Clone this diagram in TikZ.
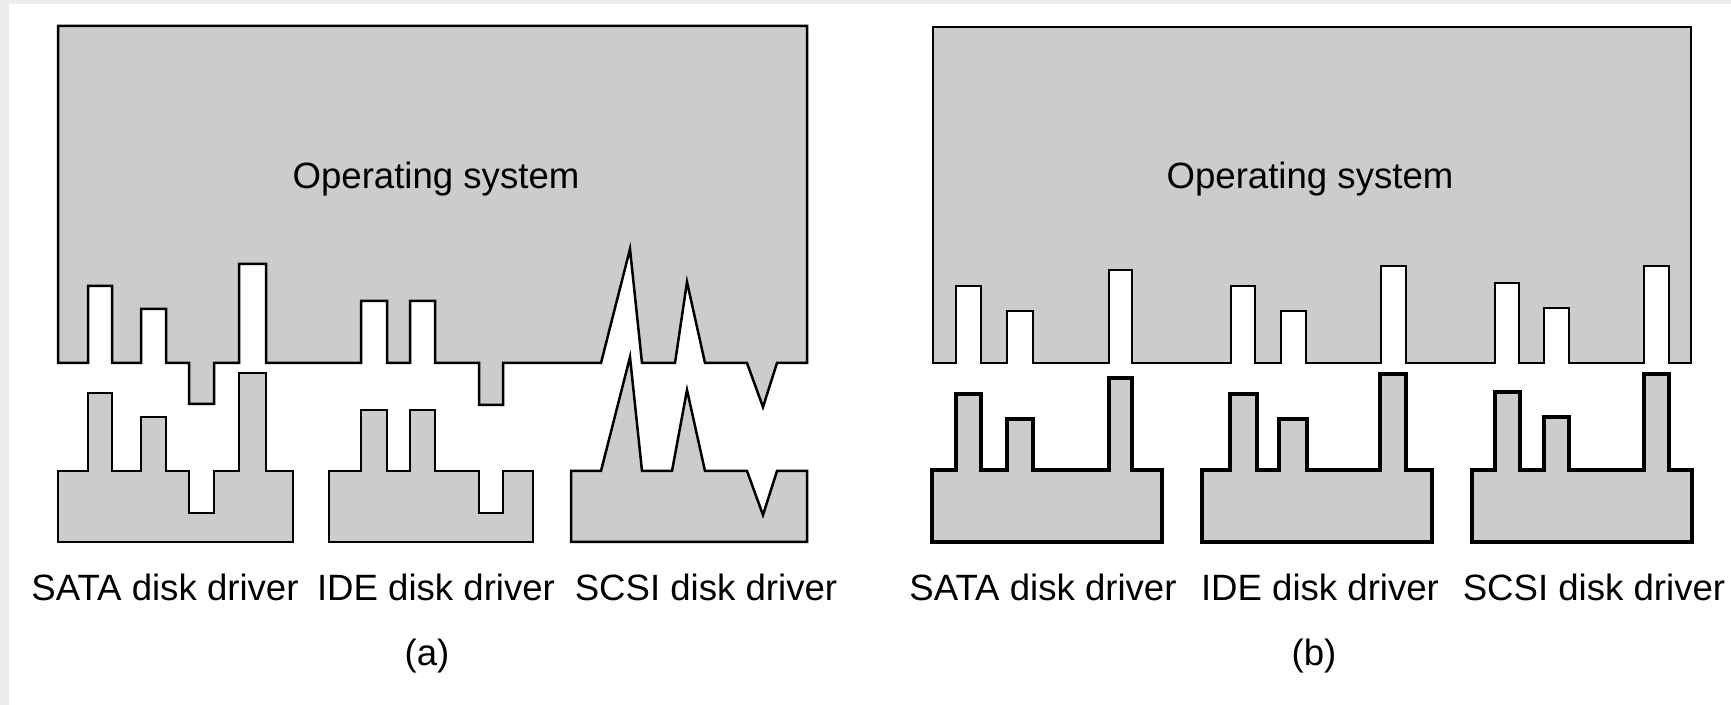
\documentclass[tikz,border=0pt]{standalone}
\usepackage{fontspec}
\setmainfont{Liberation Sans}
\definecolor{partgray}{HTML}{CCCCCC}
\definecolor{framegray}{HTML}{ECECEC}
\begin{document}
\begin{tikzpicture}[x={(0.5pt,0)},y={(0,-0.5pt)},
  osbox/.style={fill=partgray,draw=black,line width=1.25pt,line join=miter},
  drvA/.style={fill=partgray,draw=black,line width=1.25pt,line join=miter},
  drvB/.style={fill=partgray,draw=black,line width=1.8pt,line join=miter},
  lbl/.style={anchor=base,inner sep=0pt,font=\fontsize{18.3pt}{22pt}\selectfont},
  subcap/.style={anchor=base,inner sep=0pt,font=\fontsize{18.3pt}{22pt}\selectfont}]
\useasboundingbox (0,0) rectangle (1731,705);
\fill[white] (0,0) rectangle (1731,705);
% thin page edge along top and left
\fill[framegray] (0,0) rectangle (1731,4);
\fill[framegray] (0,0) rectangle (9,705);

% ---------- (a) operating system with a custom interface per driver ----------
\draw[osbox] (58,26) -- (807,26) -- (807,363) -- (777,363) -- (763,407) -- (747,363)
  -- (705,363) -- (687,282) -- (675,363) -- (642,363) -- (630,249) -- (601,363)
  -- (503,363) -- (503,405) -- (479,405) -- (479,363) -- (435,363) -- (435,301)
  -- (410,301) -- (410,363) -- (387,363) -- (387,301) -- (361,301) -- (361,363)
  -- (266,363) -- (266,264) -- (239,264) -- (239,363) -- (214,363) -- (214,404)
  -- (189,404) -- (189,363) -- (166,363) -- (166,309) -- (141,309) -- (141,363)
  -- (112,363) -- (112,286) -- (88,286) -- (88,363) -- (58,363) -- cycle;
\node[lbl] (osA) at (436,189) {Operating system};

\draw[drvA] (58,542) -- (58,471) -- (88,471) -- (88,393) -- (112,393) -- (112,471)
  -- (141,471) -- (141,417) -- (166,417) -- (166,471) -- (189,471) -- (189,513)
  -- (214,513) -- (214,471) -- (239,471) -- (239,373) -- (266,373) -- (266,471)
  -- (293,471) -- (293,542) -- cycle;
\draw[drvA] (329,542) -- (329,471) -- (361,471) -- (361,410) -- (387,410) -- (387,471)
  -- (410,471) -- (410,410) -- (435,410) -- (435,471) -- (479,471) -- (479,513)
  -- (503,513) -- (503,471) -- (533,471) -- (533,542) -- cycle;
\draw[drvA] (571,542) -- (571,471) -- (601,471) -- (630,357) -- (642,471) -- (672,471)
  -- (687,390) -- (705,471) -- (747,471) -- (763,515) -- (777,471) -- (807,471)
  -- (807,542) -- cycle;

\node[lbl] (sataA) at (165,601) {SATA disk driver};
\node[lbl] (ideA)  at (436,601) {IDE disk driver};
\node[lbl] (scsiA) at (706,601) {SCSI disk driver};
\node[subcap] (capA) at (427,666) {(a)};

% ---------- (b) operating system with one standard driver interface ----------
\draw[osbox] (933,27) -- (1691,27) -- (1691,363) -- (1669,363) -- (1669,266)
  -- (1644,266) -- (1644,363) -- (1569,363) -- (1569,308) -- (1544,308) -- (1544,363)
  -- (1519,363) -- (1519,283) -- (1495,283) -- (1495,363) -- (1406,363) -- (1406,266)
  -- (1381,266) -- (1381,363) -- (1306,363) -- (1306,311) -- (1281,311) -- (1281,363)
  -- (1255,363) -- (1255,286) -- (1231,286) -- (1231,363) -- (1132,363) -- (1132,270)
  -- (1109,270) -- (1109,363) -- (1033,363) -- (1033,311) -- (1007,311) -- (1007,363)
  -- (981,363) -- (981,286) -- (956,286) -- (956,363) -- (933,363) -- cycle;
\node[lbl] (osB) at (1310,189) {Operating system};

\draw[drvB] (932,542) -- (932,470) -- (956,470) -- (956,394) -- (981,394) -- (981,470)
  -- (1007,470) -- (1007,419) -- (1033,419) -- (1033,470) -- (1109,470) -- (1109,378)
  -- (1132,378) -- (1132,470) -- (1162,470) -- (1162,542) -- cycle;
\draw[drvB] (1202,542) -- (1202,470) -- (1230,470) -- (1230,394) -- (1257,394) -- (1257,470)
  -- (1279,470) -- (1279,419) -- (1307,419) -- (1307,470) -- (1380,470) -- (1380,374)
  -- (1406,374) -- (1406,470) -- (1432,470) -- (1432,542) -- cycle;
\draw[drvB] (1472,542) -- (1472,470) -- (1495,470) -- (1495,392) -- (1520,392) -- (1520,470)
  -- (1544,470) -- (1544,417) -- (1569,417) -- (1569,470) -- (1644,470) -- (1644,374)
  -- (1669,374) -- (1669,470) -- (1692,470) -- (1692,542) -- cycle;

\node[lbl] (sataB) at (1043,601) {SATA disk driver};
\node[lbl] (ideB)  at (1320,601) {IDE disk driver};
\node[lbl] (scsiB) at (1594,601) {SCSI disk driver};
\node[subcap] (capB) at (1314,666) {(b)};
\end{tikzpicture}
\end{document}
